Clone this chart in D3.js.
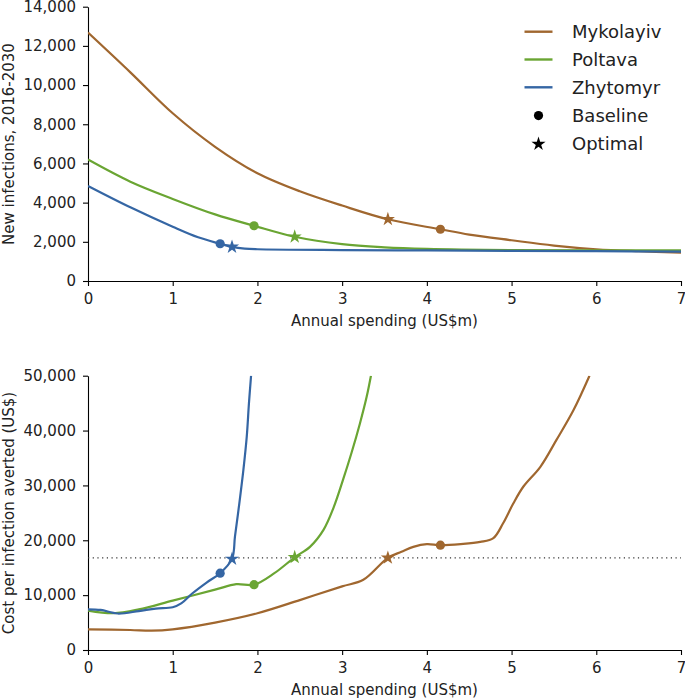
<!DOCTYPE html>
<html>
<head>
<meta charset="utf-8">
<script src="https://cdn.jsdelivr.net/npm/d3@7/dist/d3.min.js"></script>
<style>
  html, body { margin: 0; padding: 0; background: #fff; }
  svg { display: block; font-family: "DejaVu Sans", sans-serif; }
  .axis text { font-size: 15px; fill: #222; font-family: "DejaVu Sans", sans-serif; }
  .axis path, .axis line { stroke: #000; stroke-width: 1.1px; }
</style>
</head>
<body>
<script>
// ---------------- DATA ----------------
const regions = ["Mykolayiv", "Poltava", "Zhytomyr"];
const colors = ["#a0672f", "#6aa533", "#3566a4"];

// Top panel: new infections 2016-2030 vs annual spending (US$m)
const myInfX = [0, 0.5, 1, 1.5, 2, 2.5, 3, 3.54, 4.16, 4.5, 5, 5.5, 6, 6.5, 7];
const myInfY = [12680, 10650, 8560, 6850, 5500, 4580, 3850, 3150, 2640, 2370, 2080, 1810, 1620, 1520, 1450];
const poInfX = [0, 0.5, 1, 1.5, 1.96, 2.44, 3, 3.5, 4, 5, 6, 7];
const poInfY = [6200, 5070, 4190, 3400, 2820, 2260, 1880, 1720, 1640, 1580, 1570, 1560];
const zhInfX = [0, 0.5, 1, 1.3, 1.56, 1.70, 1.85, 2, 3, 4, 5, 6, 7];
const zhInfY = [4850, 3760, 2770, 2230, 1900, 1740, 1650, 1620, 1580, 1560, 1540, 1520, 1500];

// Bottom panel: cost per infection averted (US$) vs annual spending (US$m)
const myCostX = [0, 0.5, 0.75, 1, 1.5, 2, 2.5, 3, 3.25, 3.54, 3.7, 3.84, 4.0, 4.16, 4.4, 4.63, 4.785, 4.9, 5.02, 5.14, 5.34, 5.53, 5.73, 5.92];
const myCostY = [3770, 3650, 3520, 3770, 5000, 6700, 9100, 11600, 12800, 16800, 17900, 18800, 19300, 19100, 19300, 19700, 20400, 23100, 26700, 29800, 33400, 38300, 43700, 50000];
const poCostX = [0, 0.3, 0.6, 1, 1.5, 1.75, 1.96, 2.2, 2.44, 2.62, 2.78, 2.9, 3.01, 3.11, 3.21, 3.29, 3.34];
const poCostY = [7170, 6700, 7400, 9000, 11000, 12000, 11900, 14000, 16900, 18800, 21900, 26000, 31000, 35900, 41300, 46200, 50000];
const zhCostX = [0, 0.15, 0.35, 0.6, 0.8, 1.0, 1.1, 1.23, 1.4, 1.56, 1.70, 1.735, 1.786, 1.834, 1.874, 1.90, 1.925];
const zhCostY = [7420, 7300, 6650, 7100, 7550, 7800, 8500, 10300, 12300, 14000, 16600, 20700, 26700, 32800, 38900, 45000, 50000];

// Markers
const baselineX = [4.16, 1.96, 1.56];
const baselineInf = [2640, 2820, 1900];
const baselineCost = [19100, 11900, 14000];
const optimalX = [3.54, 2.44, 1.70];
const optimalInf = [3150, 2260, 1740];
const optimalCost = [16800, 16900, 16600];
const thresholdCost = 16800;

const xTicks = [0, 1, 2, 3, 4, 5, 6, 7];
const topTicks = [0, 2000, 4000, 6000, 8000, 10000, 12000, 14000];
const botTicks = [0, 10000, 20000, 30000, 40000, 50000];
const legendLabels = ["Mykolayiv", "Poltava", "Zhytomyr", "Baseline", "Optimal"];

// ---------------- DRAWING ----------------
const W = 685, H = 699;
const svg = d3.select("body").append("svg").attr("width", W).attr("height", H);

const x = d3.scaleLinear().domain([0, 7]).range([88, 681]);
const yTop = d3.scaleLinear().domain([0, 14000]).range([281, 6.7]);
const yBot = d3.scaleLinear().domain([0, 50000]).range([650, 375.7]);
const fmt = d3.format(",");

const defs = svg.append("defs");
defs.append("clipPath").attr("id", "clipTop").append("rect")
  .attr("x", 88).attr("y", 6.7).attr("width", 596).attr("height", 281 - 6.7);
defs.append("clipPath").attr("id", "clipBot").append("rect")
  .attr("x", 88).attr("y", 375.7).attr("width", 596).attr("height", 650 - 375.7);

function drawAxes(yScale, ticks, yBase, xLabelY, yLabel, yLabelCenter) {
  svg.append("g").attr("class", "axis")
    .attr("transform", `translate(0,${yBase})`)
    .call(d3.axisBottom(x).tickValues(xTicks).tickFormat(d3.format("d")).tickSize(5).tickPadding(7).tickSizeOuter(0));
  svg.append("g").attr("class", "axis")
    .attr("transform", `translate(88,0)`)
    .call(d3.axisLeft(yScale).tickValues(ticks).tickFormat(fmt).tickSize(5).tickPadding(7).tickSizeOuter(0));
  svg.append("text").attr("x", 384.5).attr("y", xLabelY)
    .attr("text-anchor", "middle").style("font-size", "15px").attr("fill", "#222")
    .text("Annual spending (US$m)");
  svg.append("text").attr("transform", `translate(14,${yLabelCenter}) rotate(-90)`)
    .attr("text-anchor", "middle").style("font-size", "15px").attr("fill", "#222")
    .text(yLabel);
}

drawAxes(yTop, topTicks, 281, 326, "New infections, 2016-2030", 144);
drawAxes(yBot, botTicks, 650, 695, "Cost per infection averted (US$)", 513);

const infSeries = [[myInfX, myInfY], [poInfX, poInfY], [zhInfX, zhInfY]];
const costSeries = [[myCostX, myCostY], [poCostX, poCostY], [zhCostX, zhCostY]];

function drawLines(series, yScale, clip) {
  const g = svg.append("g").attr("clip-path", `url(#${clip})`);
  const line = d3.line().x(d => x(d[0])).y(d => yScale(d[1])).curve(d3.curveCatmullRom.alpha(0.5));
  series.forEach((s, i) => {
    const pts = s[0].map((v, j) => [v, s[1][j]]);
    g.append("path").datum(pts).attr("d", line)
      .attr("fill", "none").attr("stroke", colors[i]).attr("stroke-width", 2.2)
      .attr("stroke-linejoin", "round");
  });
}

// threshold dotted line in bottom panel
svg.append("line")
  .attr("x1", x(0)).attr("x2", x(7))
  .attr("y1", yBot(thresholdCost)).attr("y2", yBot(thresholdCost))
  .attr("stroke", "#333").attr("stroke-width", 1.2).attr("stroke-dasharray", "1.2,3.5");

drawLines(infSeries, yTop, "clipTop");
drawLines(costSeries, yBot, "clipBot");

const star = d3.symbol().type(d3.symbolStar).size(62);
function drawMarkers(yScale, baseY, optY) {
  regions.forEach((r, i) => {
    svg.append("circle").attr("cx", x(baselineX[i])).attr("cy", yScale(baseY[i]))
      .attr("r", 4.6).attr("fill", colors[i]);
    svg.append("path").attr("d", star())
      .attr("transform", `translate(${x(optimalX[i])},${yScale(optY[i])})`)
      .attr("fill", colors[i]);
  });
}
drawMarkers(yTop, baselineInf, optimalInf);
drawMarkers(yBot, baselineCost, optimalCost);

// Legend
const legRows = [31.7, 59.5, 87.3, 115.6, 144];
const leg = svg.append("g");
legendLabels.forEach((lab, i) => {
  const yy = legRows[i];
  if (i < 3) {
    leg.append("line").attr("x1", 524.5).attr("x2", 552.5).attr("y1", yy).attr("y2", yy)
      .attr("stroke", colors[i]).attr("stroke-width", 2.4);
  } else if (i === 3) {
    leg.append("circle").attr("cx", 538.5).attr("cy", yy).attr("r", 4.6).attr("fill", "#000");
  } else {
    leg.append("path").attr("d", star()).attr("transform", `translate(538.5,${yy})`).attr("fill", "#000");
  }
  leg.append("text").attr("x", 572).attr("y", yy).attr("dy", "0.36em")
    .style("font-size", "18px").attr("fill", "#222").text(lab);
});
</script>
</body>
</html>
